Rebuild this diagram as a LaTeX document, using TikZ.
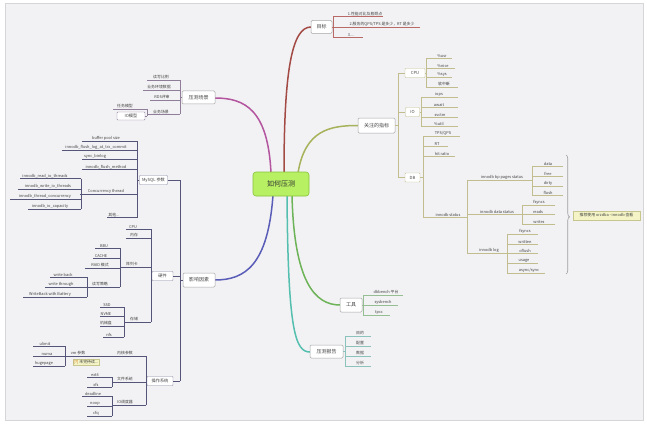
\documentclass[tikz,border=0pt]{standalone}
\usepackage{fontspec}
\setmainfont{Noto Sans CJK SC}
\usetikzlibrary{calc,decorations.pathreplacing}
\definecolor{bgc}{HTML}{F2F2F4}
\definecolor{framec}{HTML}{D6D6D8}
\definecolor{txt}{HTML}{444444}
\definecolor{cred}{HTML}{A34A45}
\definecolor{cmag}{HTML}{B4559F}
\definecolor{colive}{HTML}{A8B25A}
\definecolor{cblue}{HTML}{5A5DB8}
\definecolor{cgreen}{HTML}{6DB357}
\definecolor{cteal}{HTML}{55BFAF}
\definecolor{lred}{HTML}{B86A66}
\definecolor{lmag}{HTML}{8E7E9A}
\definecolor{lolive}{HTML}{C2BD8E}
\definecolor{lblue}{HTML}{55557A}
\definecolor{lgreen}{HTML}{95BF92}
\definecolor{lteal}{HTML}{8CC2BC}
\definecolor{rootfill}{HTML}{B7F062}
\definecolor{rootdraw}{HTML}{88C23C}
\definecolor{notefill}{HTML}{F4F4C6}
\definecolor{notedraw}{HTML}{C6C68E}
\newcommand\myleaf[7]{\node[leaf] (#1) at (#2,#3) {#4}; \draw[#7] (#5,#3) -- (#6,#3);}
\newcommand\mybr[4]{\draw[#4] (#1,#2) -- (#1,#3);}
\begin{document}
\begin{tikzpicture}[x=1pt,y=-1pt,
  leaf/.style={font=\fontsize{3.9}{4.4}\selectfont, inner sep=0.7pt, anchor=south, text=txt},
  lr/.style={draw=lred, line width=0.55pt},
  lp/.style={draw=lmag, line width=0.55pt},
  lo/.style={draw=lolive, line width=0.55pt},
  lb/.style={draw=lblue, line width=0.55pt},
  lg/.style={draw=lgreen, line width=0.55pt},
  lt/.style={draw=lteal, line width=0.55pt},
  branch/.style={line width=1.5pt, line cap=round},
  mainbox/.style={draw=gray!70, fill=white, rounded corners=1.3pt, line width=0.5pt, font=\fontsize{5}{6}\selectfont, text=txt, inner sep=0pt},
  subbox/.style={draw=lblue!70, fill=white, rounded corners=0.8pt, line width=0.45pt, font=\fontsize{4.2}{5}\selectfont, text=txt, inner sep=0pt},
  obox/.style={draw=lolive, fill=white, rounded corners=0.8pt, line width=0.45pt, font=\fontsize{4.2}{5}\selectfont, text=txt, inner sep=0pt}
]
\useasboundingbox (0,0) rectangle (647,425);
\fill[white] (0,0) rectangle (647,425);
\draw[framec, fill=bgc, line width=0.6pt] (5,3) rectangle (643,420);

% ---------- main branches ----------
\draw[branch, cred]   (284,173) .. controls (284,70) and (292,27) .. (311,27);
\draw[branch, cmag]   (271,173) .. controls (268,110) and (245,98) .. (215,98);
\draw[branch, colive] (298,173) .. controls (305,130) and (330,125.5) .. (358,125.5);
\draw[branch, cblue]  (273,195) .. controls (268,265) and (245,280) .. (215,280);
\draw[branch, cgreen] (292,195) .. controls (294,282) and (315,305) .. (340,305);
\draw[branch, cteal]  (287,195) .. controls (288,330) and (295,352) .. (310,352);

% ---------- root ----------
\node[draw=rootdraw, fill=rootfill, rounded corners=3pt, line width=0.6pt, minimum width=56pt, minimum height=24pt, font=\fontsize{7}{8}\selectfont, text=black!80] (root) at (281,184) {如何压测};

% ---------- 目标 ----------
\node[mainbox, minimum width=21pt, minimum height=13pt] (goal) at (321.5,27) {目标};
\draw[lr] (goal.east) -- (333,27);
\mybr{333}{16.5}{37}{lr}
\myleaf{g1}{365}{16.5}{1.性能对比及瓶颈点}{333}{383}{lr}
\myleaf{g2}{382}{27.5}{2.服务的QPS/TPS 是多少，RT 是多少}{333}{420}{lr}
\myleaf{g3}{351}{37}{3....}{333}{363}{lr}

% ---------- 压测场景 ----------
\node[mainbox, minimum width=33pt, minimum height=13pt] (scene) at (198.5,97.5) {压测场景};
\draw[lp] (scene.west) -- (180,97.5);
\mybr{180}{80}{114.5}{lp}
\myleaf{p1}{161}{80}{读写比例}{147}{180}{lp}
\myleaf{p2}{159}{90}{业务环境数据}{143}{180}{lp}
\myleaf{p3}{162}{100}{RDS评审}{150}{180}{lp}
\myleaf{p4}{161}{114.5}{业务场景}{147}{180}{lp}
\myleaf{pm1}{125}{109}{任务模型}{113}{147}{lp}
\node[subbox, draw=lmag, minimum width=28pt, minimum height=8pt] (pm2) at (131,116) {IO模型};
\draw[lp] (147,109) -- (147,116);
\draw[lp] (pm2.east) -- (147,116);

% ---------- 影响因素 ----------
\node[mainbox, minimum width=32pt, minimum height=14pt] (factor) at (199,280) {影响因素};
\mybr{180}{180}{381}{lb}
\draw[lb] (180,280) -- (factor.west);

% MySQL 参数
\node[subbox, minimum width=28pt, minimum height=9pt] (mysql) at (153.5,180) {MySQL 参数};
\draw[lb] (mysql.east) -- (180,180);
\draw[lb] (mysql.west) -- (137,180);
\mybr{137}{141}{217.5}{lb}
\myleaf{m1}{106}{141}{buffer pool size}{82}{137}{lb}
\myleaf{m2}{96}{150}{innodb\_flush\_log\_at\_trx\_commit}{62}{137}{lb}
\myleaf{m3}{95}{159.5}{sync\_binlog}{82}{137}{lb}
\myleaf{m4}{106}{169.5}{innodb\_flush\_method}{82}{137}{lb}
\myleaf{m5}{106}{194}{Concurrency thread}{80}{137}{lb}
\myleaf{m6}{114}{217.5}{其他...}{107}{137}{lb}
\mybr{81}{178.5}{209}{lb}
\myleaf{c1}{45}{178.5}{innodb\_read\_io\_threads}{20}{81}{lb}
\myleaf{c2}{48}{189}{innodb\_write\_io\_threads}{18}{81}{lb}
\myleaf{c3}{45}{199}{innodb\_thread\_concurrency}{10}{81}{lb}
\myleaf{c4}{50}{209}{innodb\_io\_capacity}{28}{81}{lb}

% 硬件
\node[subbox, minimum width=21pt, minimum height=9pt] (hw) at (162.5,276) {硬件};
\draw[lb] (hw.east) -- (180,276);
\draw[lb] (hw.west) -- (151,276);
\mybr{151}{229}{322}{lb}
\myleaf{h1}{133}{229}{CPU}{126}{151}{lb}
\myleaf{h2}{134}{238}{内存}{126}{151}{lb}
\myleaf{h3}{132}{267}{阵列卡}{120}{151}{lb}
\myleaf{h4}{134}{322}{存储}{125}{151}{lb}
\mybr{120}{248}{287}{lb}
\myleaf{r1}{104}{248}{BBU}{95}{120}{lb}
\myleaf{r2}{101}{258}{CACHE}{93}{120}{lb}
\myleaf{r3}{100}{268}{RAID 模式}{85}{120}{lb}
\myleaf{r4}{100}{287}{读写策略}{87}{120}{lb}
\mybr{87}{277}{297}{lb}
\myleaf{w1}{63}{277}{write back}{50}{87}{lb}
\myleaf{w2}{61}{287}{write through}{45}{87}{lb}
\myleaf{w3}{50}{297}{WriteBack with Battery}{23}{87}{lb}
\mybr{124}{307}{337}{lb}
\myleaf{s1}{107}{307}{SSD}{100}{124}{lb}
\myleaf{s2}{106}{316.5}{NVME}{100}{124}{lb}
\myleaf{s3}{106}{326}{机械盘}{100}{124}{lb}
\myleaf{s4}{109}{337}{nfs}{103}{124}{lb}

% 操作系统
\node[subbox, minimum width=26pt, minimum height=9pt] (os) at (160,381) {操作系统};
\draw[lb] (os.east) -- (180,381);
\draw[lb] (os.west) -- (146,381);
\mybr{146}{356}{405}{lb}
\myleaf{o1}{125}{356}{内核参数}{112}{146}{lb}
\myleaf{o2}{125}{382}{文件系统}{112}{146}{lb}
\myleaf{o3}{125}{405}{IO调度器}{112}{146}{lb}
\myleaf{k1}{78}{356}{vm 参数}{65}{112}{lb}
\mybr{65}{346}{366}{lb}
\myleaf{v1}{45}{346}{ulimit}{33}{65}{lb}
\myleaf{v2}{47}{356}{numa}{33}{65}{lb}
\myleaf{v3}{44}{366}{hugepage}{33}{65}{lb}
\node[fill=notefill, draw=notedraw, line width=0.3pt, inner sep=0.8pt, font=\fontsize{3.9}{4.4}\selectfont, text=txt] (note) at (86,362) {\textcolor{orange!80!black}{[?]} 未完待续...};
\mybr{112}{377}{387}{lb}
\myleaf{f1}{95}{377}{ext4}{87}{112}{lb}
\myleaf{f2}{96}{387}{xfs}{87}{112}{lb}
\mybr{112}{396}{416}{lb}
\myleaf{i1}{93}{396}{deadline}{82}{112}{lb}
\myleaf{i2}{95}{406}{noop}{87}{112}{lb}
\myleaf{i3}{96}{416}{cfq}{87}{112}{lb}

% ---------- 关注的指标 ----------
\node[mainbox, minimum width=37pt, minimum height=15pt] (metric) at (376.5,125.5) {关注的指标};
\draw[lo] (metric.east) -- (398,125.5);
\mybr{398}{73}{177.5}{lo}
\node[obox, minimum width=20pt, minimum height=9pt] (cpu) at (415,73) {CPU};
\node[obox, minimum width=14pt, minimum height=9pt] (io) at (412.5,112) {IO};
\node[obox, minimum width=15pt, minimum height=9pt] (db) at (412.5,177.5) {DB};
\draw[lo] (398,73) -- (cpu.west);
\draw[lo] (398,112) -- (io.west);
\draw[lo] (398,177.5) -- (db.west);
\draw[lo] (cpu.east) -- (426,73);
\mybr{426}{58}{87}{lo}
\myleaf{u1}{442}{58}{\%usr}{426}{452}{lo}
\myleaf{u2}{443}{68}{\%nice}{426}{455}{lo}
\myleaf{u3}{442}{77.5}{\%sys}{426}{452}{lo}
\myleaf{u4}{444}{87}{软中断}{426}{458}{lo}
\draw[lo] (io.east) -- (421,112);
\mybr{421}{97}{126}{lo}
\myleaf{d1}{439}{97}{iops}{421}{458}{lo}
\myleaf{d2}{439}{107}{await}{421}{458}{lo}
\myleaf{d3}{440}{117}{svctm}{421}{458}{lo}
\myleaf{d4}{439}{126}{\%util}{421}{458}{lo}
\draw[lo] (db.east) -- (423,177.5);
\mybr{423}{136}{217}{lo}
\myleaf{b1}{443}{136}{TPS/QPS}{423}{460}{lo}
\myleaf{b2}{437}{146}{RT}{423}{448}{lo}
\myleaf{b3}{442}{156}{hit ratio}{423}{455}{lo}
\myleaf{b4}{448}{217}{innodb status}{423}{467}{lo}
\mybr{467}{180}{253}{lo}
\myleaf{n1}{502}{180}{innodb bp pages status}{467}{532}{lo}
\myleaf{n2}{497}{214}{innodb data status}{467}{522}{lo}
\myleaf{n3}{489}{253}{innodb log}{467}{507}{lo}
\mybr{532}{166}{195}{lo}
\myleaf{e1}{548}{166}{data}{532}{563}{lo}
\myleaf{e2}{548}{176}{free}{532}{563}{lo}
\myleaf{e3}{548}{186}{dirty}{532}{563}{lo}
\myleaf{e4}{548}{195}{flush}{532}{563}{lo}
\mybr{522}{205}{224}{lo}
\myleaf{a1}{539}{205}{fsyncs}{522}{555}{lo}
\myleaf{a2}{538}{214}{reads}{522}{555}{lo}
\myleaf{a3}{539}{224}{writes}{522}{555}{lo}
\mybr{507}{234}{273}{lo}
\myleaf{l1}{525}{234}{fsyncs}{507}{538}{lo}
\myleaf{l2}{525}{244}{written}{507}{538}{lo}
\myleaf{l3}{525}{253}{oflush}{507}{538}{lo}
\myleaf{l4}{524}{263}{usage}{507}{538}{lo}
\myleaf{l5}{529}{273}{async/sync}{507}{545}{lo}
\coordinate (bt) at (566,155);
\coordinate (bb) at (566,274);
\draw[gray!75, line width=0.6pt, decoration={brace, amplitude=3.5pt, aspect=0.52}, decorate] (bt) -- (bb);
\node[fill=notefill, draw=notedraw, line width=0.4pt, inner sep=0pt, minimum width=67pt, minimum height=9pt, font=\fontsize{3.9}{4.4}\selectfont, text=txt] (tip) at (606.5,215.5) {推荐使用 orzdba --innodb 查看};

% ---------- 工具 ----------
\node[mainbox, minimum width=22pt, minimum height=14pt] (tool) at (351,305) {工具};
\draw[lg] (tool.east) -- (363,305);
\mybr{363}{295}{315}{lg}
\myleaf{t1}{386}{295}{dbbench 平台}{363}{403}{lg}
\myleaf{t2}{383}{305}{sysbench}{363}{398}{lg}
\myleaf{t3}{379}{315}{tpcc}{363}{390}{lg}

% ---------- 压测报告 ----------
\node[mainbox, minimum width=33pt, minimum height=13pt] (report) at (326.5,351.5) {压测报告};
\draw[lt] (report.east) -- (345,351.5);
\mybr{345}{336}{366}{lt}
\myleaf{q1}{360}{336}{目的}{345}{371}{lt}
\myleaf{q2}{360}{346}{配置}{345}{371}{lt}
\myleaf{q3}{360}{356}{数据}{345}{371}{lt}
\myleaf{q4}{360}{366}{分析}{345}{371}{lt}
\end{tikzpicture}
\end{document}
